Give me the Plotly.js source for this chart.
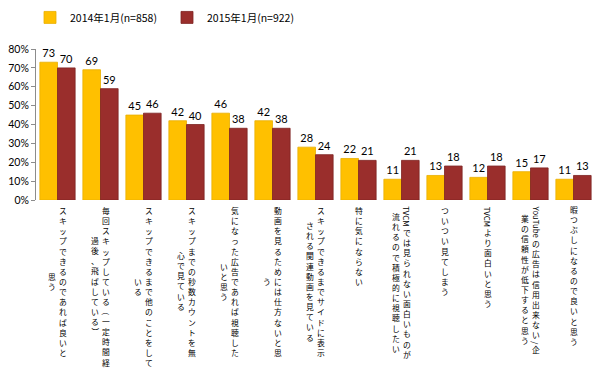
<!DOCTYPE html>
<html>
<head>
<meta charset="utf-8">
<script src="https://cdn.plot.ly/plotly-3.0.1.min.js"></script>
<style>html,body{margin:0;padding:0;background:#fff;}#chart{width:600px;height:371px;}</style>
</head>
<body>
<div id="chart"></div>
<script>
// ---- data ----
const categoryLabels = [
  "スキップできるのであれば良いと\n思う",
  "毎回スキップしている（一定時間経\n過後、飛ばしている）",
  "スキップできるまで他のことをして\nいる",
  "スキップまでの秒数カウントを無\n心で見ている",
  "気になった広告であれば視聴した\nいと思う",
  "動画を見るためには仕方ないと思\nう",
  "スキップできるまでサイドに表示\nされる関連動画を見ている",
  "特に気にならない",
  "TVCMでは見られない面白いものが\n流れるので積極的に視聴したい",
  "ついつい見てしまう",
  "TVCMより面白いと思う",
  "YouTubeの広告は信用出来ない/企\n業の信頼性が低下すると思う",
  "暇つぶしになるので良いと思う"
];
const seriesNames = ["2014年1月(n=858)", "2015年1月(n=922)"];
const values2014 = [73, 69, 45, 42, 46, 42, 28, 22, 11, 13, 12, 15, 11];
const values2015 = [70, 59, 46, 40, 38, 38, 24, 21, 21, 18, 18, 17, 13];
const yTickVals = [0, 10, 20, 30, 40, 50, 60, 70, 80];
const yTickText = ["0%", "10%", "20%", "30%", "40%", "50%", "60%", "70%", "80%"];

// ---- style ----
const cjk = '"Noto Sans CJK JP", sans-serif';
const num = 'Lato, "Noto Sans CJK JP", sans-serif';
const colors = ["#FFC000", "#9A2E2C"];
const lineColors = ["#E9AE00", "#7E2322"];

const keys = categoryLabels.map(s => s.replace("\n", ""));

const traces = [values2014, values2015].map((vals, k) => ({
  type: "bar",
  name: seriesNames[k],
  x: keys,
  y: vals,
  text: vals.map(String),
  textposition: "outside",
  textfont: {family: num, size: 11, color: "#000"},
  cliponaxis: false,
  marker: {color: colors[k], line: {color: lineColors[k], width: 0.8}},
  hoverinfo: "x+y"
}));

// ---- vertical (tategaki) category labels: one annotation per run of upright characters ----
const F = 7.8, P = F * 1.3, COL = 11, TOP = 5;
const ctx = document.createElement("canvas").getContext("2d");
ctx.font = F + 'px "Noto Sans CJK JP"';
function groups(line) {
  const out = [];
  const re = /[A-Za-z0-9\/]+|（|）|[^A-Za-z0-9\/（）]+/g;
  let m;
  while ((m = re.exec(line))) {
    const s = m[0];
    if (/^[A-Za-z0-9\/]+$/.test(s)) out.push({s, rot: true, h: ctx.measureText(s).width + 2});
    else if (s === "（" || s === "）") out.push({s, rot: true, h: P});
    else out.push({s, rot: false, h: P * Array.from(s).length});
  }
  return out;
}
const annotations = [];
categoryLabels.forEach((label, i) => {
  const lines = label.split("\n");
  const n = lines.length;
  const gs = lines.map(groups);
  const lens = gs.map(g => g.reduce((a, b) => a + b.h, 0));
  const maxL = Math.max(...lens);
  gs.forEach((gl, j) => {
    const xs = ((n - 1) / 2 - j) * COL;
    let cur = TOP + (maxL - lens[j]) / 2;
    gl.forEach(g => {
      const c = cur + g.h / 2;
      annotations.push({
        x: keys[i], y: 0, xref: "x", yref: "y",
        text: g.rot ? g.s : Array.from(g.s).join("<br>"),
        showarrow: false,
        textangle: g.rot ? 90 : 0,
        xanchor: "center", yanchor: "middle", align: "center",
        borderpad: 0,
        xshift: xs, yshift: -c,
        font: {family: cjk, size: F, color: "#000"}
      });
      cur += g.h;
    });
  });
});

const layout = {
  width: 600, height: 371,
  margin: {l: 36, r: 5, t: 49, b: 171},
  paper_bgcolor: "#fff", plot_bgcolor: "#fff",
  barmode: "group", bargap: 0.18, bargroupgap: 0,
  showlegend: true,
  legend: {orientation: "h", xref: "container", yref: "container",
           x: 0.05, xanchor: "left", y: 0.953, yanchor: "middle",
           entrywidth: 92, itemwidth: 30, traceorder: "normal",
           font: {family: cjk, size: 10.5, color: "#000"}},
  xaxis: {type: "category", showticklabels: false, ticks: "", showline: false,
          showgrid: false, zeroline: false, fixedrange: true},
  yaxis: {range: [0, 80], tickmode: "array", tickvals: yTickVals, ticktext: yTickText,
          showgrid: false, zeroline: false, showline: true, linecolor: "#8c8c8c", linewidth: 1,
          ticks: "outside", ticklen: 4, tickcolor: "#8c8c8c",
          tickfont: {family: num, size: 10.5, color: "#000"}, fixedrange: true},
  annotations: annotations
};

Plotly.newPlot("chart", traces, layout, {displayModeBar: false, staticPlot: true});
</script>
</body>
</html>
